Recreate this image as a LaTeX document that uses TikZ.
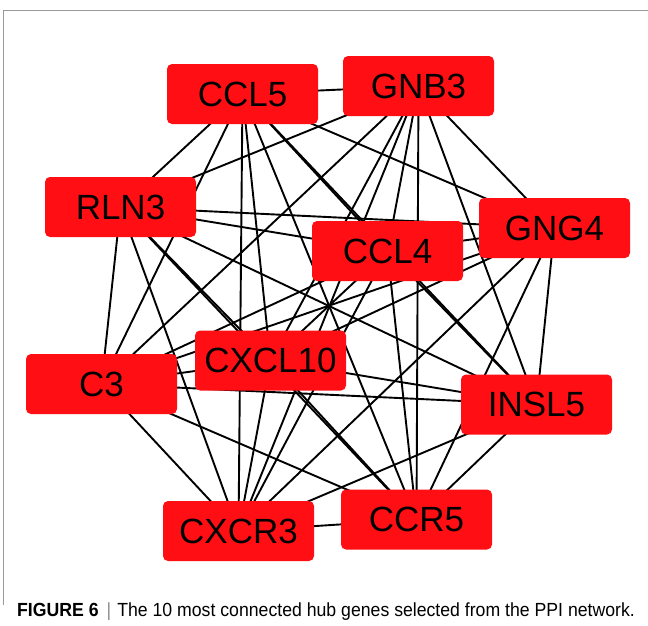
\documentclass[tikz,border=0pt]{standalone}
\usepackage{fontspec}
\setmainfont{Liberation Sans}
\newfontfamily\capfont[FakeStretch=0.93]{Liberation Sans}
\usetikzlibrary{backgrounds}
\definecolor{genered}{RGB}{255,14,20}

\begin{document}
\begin{tikzpicture}[x=1pt,y=-1pt,
	gene/.style={rectangle,rounded corners=5pt,fill=genered,minimum width=151pt,minimum height=60pt,inner sep=0pt,font=\fontsize{35}{40}\selectfont},
	link/.style={line width=1.9pt,black}]
		\useasboundingbox (0,0) rectangle (648,625);
		% the frame
		\draw[black!40,line width=0.8pt] (3,605) -- (3,10) -- (648,10);
		
		% the hub genes
		\node[gene] (ccl5) at (242.5,94) {CCL5};
		\node[gene] (gnb3) at (418.5,86) {GNB3};
		\node[gene] (rln3) at (120.5,207) {RLN3};
		\node[gene] (ccl4) at (387.5,251) {CCL4};
		\node[gene] (gng4) at (554.5,228) {GNG4};
		\node[gene] (c3) at (101.5,384) {C3};
		\node[gene] (cxcl10) at (270.5,360.5) {CXCL10};
		\node[gene] (insl5) at (536.5,404.5) {INSL5};
		\node[gene] (cxcr3) at (238.5,531) {CXCR3};
		\node[gene] (ccr5) at (416.5,519.5) {CCR5};
		
		% the interactions, under the boxes
		\begin{scope}[on background layer]
		\foreach \a/\b in {ccl5/gnb3,ccl5/rln3,ccl5/ccl4,ccl5/gng4,ccl5/c3,ccl5/cxcl10,ccl5/insl5,ccl5/cxcr3,ccl5/ccr5,
			gnb3/rln3,gnb3/ccl4,gnb3/gng4,gnb3/c3,gnb3/cxcl10,gnb3/insl5,gnb3/cxcr3,gnb3/ccr5,
			rln3/ccl4,rln3/gng4,rln3/c3,rln3/cxcl10,rln3/insl5,rln3/cxcr3,rln3/ccr5,
			ccl4/gng4,ccl4/c3,ccl4/cxcl10,ccl4/insl5,ccl4/cxcr3,ccl4/ccr5,
			gng4/c3,gng4/cxcl10,gng4/insl5,gng4/cxcr3,gng4/ccr5,
			c3/cxcl10,c3/insl5,c3/cxcr3,c3/ccr5,
			cxcl10/insl5,cxcl10/cxcr3,cxcl10/ccr5,
			insl5/cxcr3,insl5/ccr5,
			cxcr3/ccr5}
			\draw[link] (\a.center) -- (\b.center);
		\end{scope}
		
		% the caption
		\node[anchor=base west,inner sep=0pt,font=\capfont\fontsize{19}{19}\selectfont] (caption) at (17,616) {\textbf{FIGURE 6}\hspace{8pt}{\color{black!45}|}\hspace{6pt}The 10 most connected hub genes selected from the PPI network.};
		\end{tikzpicture}
\end{document}
